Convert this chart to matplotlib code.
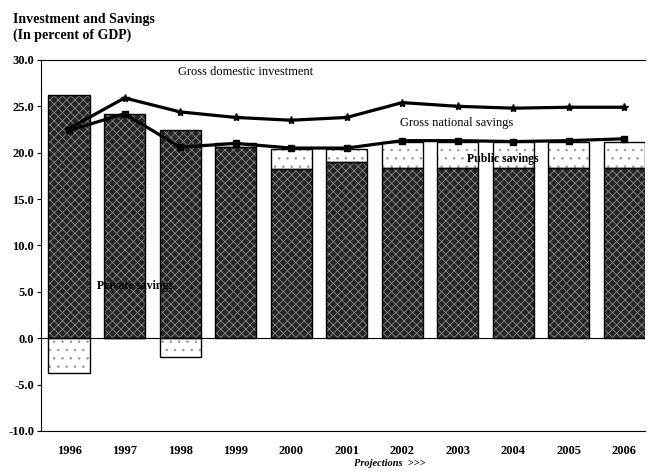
import numpy as np
import matplotlib
matplotlib.use("Agg")
from matplotlib import pyplot as plt

# values (percent of GDP)
years = ['1996', '1997', '1998', '1999', '2000', '2001', '2002', '2003', '2004', '2005', '2006']
private_savings = [26.2, 24.2, 22.5, 20.6, 18.2, 19.0, 18.3, 18.3, 18.3, 18.3, 18.3]
public_savings = [-3.8, 0.0, -2.0, 0.4, 2.2, 1.4, 2.8, 2.9, 2.9, 2.9, 2.9]
gross_dom_investment = [22.6, 25.9, 24.4, 23.8, 23.5, 23.8, 25.4, 25.0, 24.8, 24.9, 24.9]
gross_nat_savings = [22.4, 24.2, 20.6, 21.0, 20.5, 20.5, 21.3, 21.3, 21.2, 21.3, 21.5]

serif = 'Liberation Serif'
plt.rcParams['font.family'] = serif
plt.rcParams['hatch.linewidth'] = 0.6

fig = plt.figure(figsize=(6.5, 4.72), dpi=100)
ax = fig.add_axes([0.063, 0.087, 0.93, 0.786])

x = np.arange(len(years))
w = 0.74

# private savings: dark speckled bars
plt.rcParams['hatch.color'] = '#858585'
ax.bar(x, private_savings, w, color='#252525', edgecolor='#858585',
       hatch='xxxx', linewidth=0, zorder=2)
ax.bar(x, private_savings, w, fill=False, edgecolor='black', linewidth=1.0, zorder=2.1)

# public savings: light dotted bars stacked on top (or below zero)
pub_bottom = [p if s > 0 else 0 for p, s in zip(private_savings, public_savings)]
plt.rcParams['hatch.color'] = '#9a9a9a'
ax.bar(x, public_savings, w, bottom=pub_bottom, color='white', edgecolor='#9a9a9a',
       hatch='..', linewidth=0, zorder=2)
ax.bar(x, public_savings, w, bottom=pub_bottom, fill=False, edgecolor='black',
       linewidth=1.0, zorder=2.1)

ax.axhline(0, color='black', linewidth=0.8, zorder=1)

ax.plot(x, gross_dom_investment, color='black', linewidth=2.3, marker='*',
        markersize=6, zorder=4)
ax.plot(x, gross_nat_savings, color='black', linewidth=2.3, marker='s',
        markersize=5, zorder=4)

ax.text(1.96, 28.7, 'Gross domestic investment', fontsize=9, va='center', zorder=5)
ax.text(5.96, 23.2, 'Gross national savings', fontsize=9, va='center', zorder=5)
ax.text(7.17, 19.3, 'Public savings', fontsize=8.5, fontweight='bold', va='center', zorder=5)
ax.text(0.5, 5.6, 'Private savings', fontsize=8.5, fontweight='bold', va='center', zorder=5)

ax.set_xlim(-0.505, 10.38)
ax.set_ylim(-10, 30)
ax.set_yticks(np.arange(-10, 31, 5))
ax.set_yticklabels(['%.1f' % v for v in np.arange(-10, 31, 5)], fontsize=9, fontweight='bold')
ax.set_xticks(x)
ax.set_xticklabels(years, fontsize=9, fontweight='bold')
ax.tick_params(axis='x', length=0, pad=10)
ax.tick_params(axis='y', direction='out', length=3, width=0.8, pad=2)

ax.spines['right'].set_visible(False)
for s in ['left', 'top', 'bottom']:
    ax.spines[s].set_linewidth(0.8)

fig.text(0.02, 0.972, 'Investment and Savings\n(In percent of GDP)', fontsize=10,
         fontweight='bold', va='top', ha='left', linespacing=1.2)
fig.text(0.6, 0.012, 'Projections  >>>', fontsize=7.5, fontweight='bold',
         fontstyle='italic', ha='center')

fig.savefig('out.png', dpi=100)
